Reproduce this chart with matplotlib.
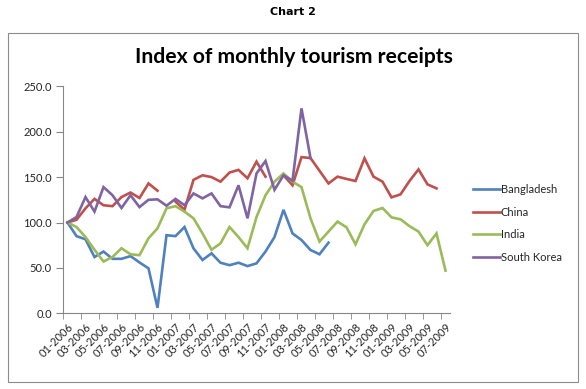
import numpy as np
import matplotlib
matplotlib.use("Agg")
import matplotlib.pyplot as plt
from matplotlib.patches import Rectangle

NaN = np.nan

# 01-2006 .. 07-2009, one value per month
meses = [f"{m:02d}-{a}" for a in range(2006, 2010) for m in range(1, 13)][:43]

bangladesh = [100, 85, 81.5, 62, 68, 60, 60, 63, 56, 49.5,
              6, 86, 85, 95, 71.5, 58.7, 66, 55.7, 53, 55.7,
              52, 55, 68, 84, 114, 88, 80.7, 69.7, 65, 77.8,
              NaN, NaN, NaN, NaN, NaN, NaN, NaN, NaN, NaN, NaN,
              NaN, NaN, NaN]
china = [100, 103, 115.6, 126, 119, 118, 128, 133, 127, 143,
         135, NaN, 123, 114, 147, 152, 150, 145, 155, 158,
         148.7, 167, 150.5, NaN, 152, 141, 172, 171, 157, 143,
         150.5, 148, 145.7, 170.7, 150.5, 145, 127.7, 131, 145.7, 158.5,
         142, 137.6, NaN]
india = [100, 95, 84, 70, 57, 62, 71.6, 65, 64, 82.6,
         93.6, 115.6, 118, 112, 104.6, 88, 70, 77, 95, 84,
         71.6, 106, 130, 145, 154, 145, 139, 104.6, 79, 90,
         101, 94.7, 76, 98, 112.7, 116, 105.7, 103.5, 96, 90,
         75, 88, 47]
south_korea = [100, 106, 128, 112, 139, 130, 116, 130, 117, 125,
               125.5, 118.5, 126, 119, 132, 126.6, 132, 118, 116.7, 141,
               104.6, 154, 167.7, 136, 152, 146, 225.7, 171, NaN, NaN,
               NaN, NaN, NaN, NaN, NaN, NaN, NaN, NaN, NaN, NaN,
               NaN, NaN, NaN]

series = [
    ("Bangladesh", bangladesh, "#4F81BD"),
    ("China", china, "#C0504D"),
    ("India", india, "#9BBB59"),
    ("South Korea", south_korea, "#8064A2"),
]

plt.rcParams["font.family"] = ["Lato", "DejaVu Sans"]
GRIS = "#868686"
TEXTO = "#262626"

fig = plt.figure(figsize=(5.86, 3.89), dpi=100)
W, H = 586, 389

# marco exterior del gráfico
fig.patches.append(Rectangle((8 / W, 1 - 382 / H), 570 / W, 349 / H,
                             transform=fig.transFigure, fill=False,
                             edgecolor="#8c8c8c", linewidth=0.8))

fig.text(293 / W, 1 - 12 / H, "Chart 2", ha="center", va="center",
         fontsize=8, fontweight="bold", family=["DejaVu Sans"])
fig.text(294 / W, 1 - 57 / H, "Index of monthly tourism receipts",
         ha="center", va="center", fontsize=15.2, fontweight="bold")

ax = fig.add_axes([63 / W, 1 - 313.3 / H, 387 / W, 227 / H])
x = np.arange(len(meses))
for nombre, valores, color in series:
    ax.plot(x, valores, color=color, linewidth=1.9, label=nombre,
            solid_joinstyle="miter")

ax.set_xlim(-0.5, len(meses) - 0.5)
ax.set_ylim(0, 250)
ax.set_yticks(np.arange(0, 251, 50))
ax.set_yticklabels([f"{v:.1f}" for v in np.arange(0, 251, 50)], fontsize=8,
                   color=TEXTO)

# marcas entre categorías cada 2 meses, etiquetas en el centro
ax.set_xticks(np.arange(-0.5, len(meses) - 1, 2), minor=True)
ax.set_xticks(x[::2])
ax.set_xticklabels(meses[::2], rotation=45, ha="right", va="top",
                   rotation_mode="anchor", fontsize=8, color=TEXTO)
ax.tick_params(axis="x", which="major", length=0, pad=6)
ax.tick_params(axis="x", which="minor", length=4, color=GRIS)
ax.tick_params(axis="y", length=5, color=GRIS, pad=3)

for lado in ["top", "right"]:
    ax.spines[lado].set_visible(False)
for lado in ["left", "bottom"]:
    ax.spines[lado].set_color(GRIS)
    ax.spines[lado].set_linewidth(0.8)

fig.legend(loc="upper left", bbox_to_anchor=(473 / W, 1 - 184 / H),
           bbox_transform=fig.transFigure, frameon=False, fontsize=8,
           handlelength=2.4, handletextpad=0.1, labelspacing=1.05,
           borderpad=0, borderaxespad=0, labelcolor=TEXTO)

fig.savefig("out.png", dpi=100)
